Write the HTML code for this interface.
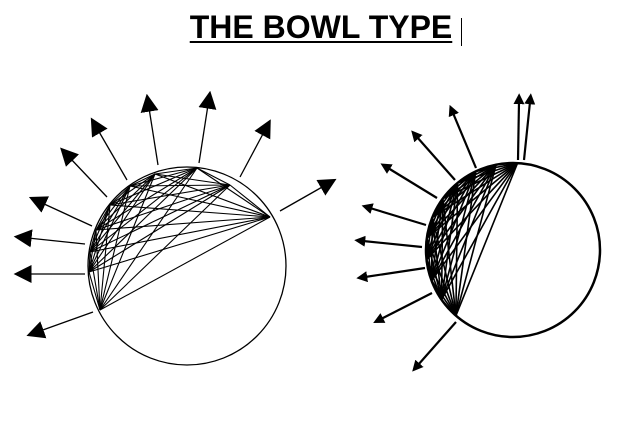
<!DOCTYPE html>
<html><head><meta charset="utf-8"><style>
body{margin:0;width:633px;height:430px;background:#fff;overflow:hidden;position:relative}
.t{position:absolute;left:160px;top:9px;width:322px;text-align:center;font:bold 32px "Liberation Sans",sans-serif;text-decoration:underline;text-decoration-thickness:2px;text-underline-offset:3px;color:#000}
.c{position:absolute;left:461px;top:18px;width:1px;height:28px;background:#000}
svg{position:absolute;left:0;top:0}
</style></head><body>
<div class="t">THE BOWL TYPE</div><div class="c"></div>
<svg width="633" height="430" id="s">
<defs>
<marker id="a1" viewBox="0 0 10 10" refX="2" refY="5" markerWidth="18" markerHeight="18" markerUnits="userSpaceOnUse" orient="auto"><path d="M0,0L10,5L0,10z"/></marker>
<marker id="a2" viewBox="0 0 10 10" refX="2" refY="5" markerWidth="11" markerHeight="11" markerUnits="userSpaceOnUse" orient="auto"><path d="M0,0L10,5L0,10z"/></marker>
</defs>
<circle cx="187" cy="266" r="99" fill="none" stroke="#000" stroke-width="1.3"/>
<circle cx="513" cy="250" r="87" fill="none" stroke="#000" stroke-width="2.5"/>
<g id="g1" stroke="#000" stroke-width="1.1"></g>
<g id="g2" stroke="#000" stroke-width="1.6"></g>
</svg>
<script>
var ns="http://www.w3.org/2000/svg";
function L(g,x1,y1,x2,y2,m,w){var l=document.createElementNS(ns,"line");l.setAttribute("x1",x1);l.setAttribute("y1",y1);l.setAttribute("x2",x2);l.setAttribute("y2",y2);if(m)l.setAttribute("marker-end","url(#"+m+")");if(w)l.setAttribute("stroke-width",w);g.appendChild(l);}
var g1=document.getElementById("g1"),g2=document.getElementById("g2");
var p1=[[100,310],[89,272],[90,252],[96,230],[110,205],[130,186],[155,174],[197,168],[230,185],[270,217]];
for(var i=0;i<p1.length;i++)for(var j=i+1;j<p1.length;j++)L(g1,p1[i][0],p1[i][1],p1[j][0],p1[j][1]);
var a1=[[93,312,40,331],[85,274,28,274],[85,244,28,238],[92,226,42,203],[107,197,70,158],[127,180,98,130],[158,165,149,108],[199,163,208,105],[240,177,264,132],[280,211,324,186]];
a1.forEach(function(a){L(g1,a[0],a[1],a[2],a[3],"a1",1.3)});
var p2=[];for(var k=0;k<11;k++){var an=(87+k*(229-87)/10)*Math.PI/180;p2.push([513+87*Math.cos(an),250-87*Math.sin(an)]);}
for(var i=0;i<p2.length;i++)for(var j=i+1;j<p2.length;j++)L(g2,p2[i][0],p2[i][1],p2[j][0],p2[j][1]);
var a2=[[456,322,418,365],[432,293,381,319],[425,268,365,277],[422,247,363,241],[426,225,370,208],[437,198,388,168],[455,180,417,137],[476,168,453,113],[518,160,519,102],[524,160,530,102]];
a2.forEach(function(a){L(g2,a[0],a[1],a[2],a[3],"a2",2.2)});
</script>
</body></html>
